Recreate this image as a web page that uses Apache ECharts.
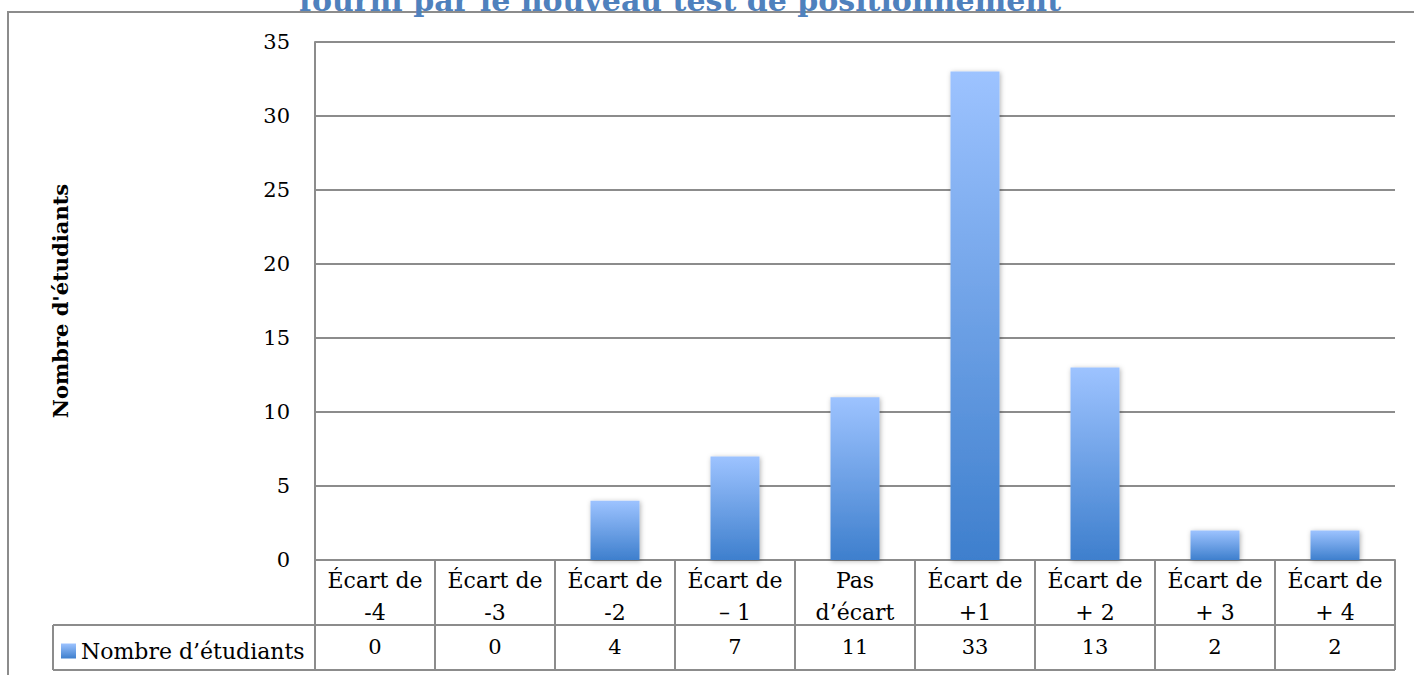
<!DOCTYPE html>
<html>
<head>
<meta charset="utf-8">
<script src="https://cdn.jsdelivr.net/npm/echarts@6/dist/echarts.min.js"></script>
<style>
html,body{margin:0;padding:0;background:#fff;}
#chart{width:1414px;height:675px;}
</style>
</head>
<body>
<div id="chart"></div>
<script>
const titleText = "fourni par le nouveau test de positionnement";
const yAxisTitle = "Nombre d'étudiants";
const seriesName = "Nombre d’étudiants";
const categories = ["Écart de\n-4", "Écart de\n-3", "Écart de\n-2", "Écart de\n– 1", "Pas\nd’écart", "Écart de\n+1", "Écart de\n+ 2", "Écart de\n+ 3", "Écart de\n+ 4"];
const values = [0, 0, 4, 7, 11, 33, 13, 2, 2];
const yMin = 0, yMax = 35, yStep = 5;

const FONT = "DejaVu Serif";
const GRID = "#8c8c8c";
const barGrad = new echarts.graphic.LinearGradient(0, 0, 0, 1, [
  {offset: 0, color: "#9dc3ff"},
  {offset: 1, color: "#3e7fcd"}
]);

const chart = echarts.init(document.getElementById("chart"), null, {renderer: "svg"});
chart.setOption({
  animation: false,
  backgroundColor: "#ffffff",
  grid: {left: 315, right: 19, top: 42, bottom: 115, containLabel: false},
  legend: {
    left: 56, top: 635,
    itemWidth: 15, itemHeight: 15, itemGap: 10,
    icon: "rect",
    textStyle: {fontFamily: FONT, fontSize: 22, color: "#000", padding: [0, 0, 0, 0]},
    data: [seriesName]
  },
  xAxis: [
    {
      type: "category",
      data: categories,
      position: "bottom",
      axisLine: {show: true, lineStyle: {color: GRID, width: 2}},
      axisTick: {show: true, length: 110, alignWithLabel: false, lineStyle: {color: GRID, width: 2}},
      axisLabel: {fontFamily: FONT, fontSize: 22, color: "#000", lineHeight: 32, margin: 4, interval: 0}
    },
    {
      type: "category",
      data: values.map(v => String(v)),
      position: "bottom",
      offset: 65,
      axisLine: {show: false},
      axisTick: {show: false},
      axisLabel: {fontFamily: FONT, fontSize: 21, color: "#000", margin: 11, interval: 0}
    }
  ],
  yAxis: {
    type: "value",
    min: yMin, max: yMax, interval: yStep,
    name: yAxisTitle,
    nameLocation: "middle",
    nameRotate: 90,
    nameGap: 244,
    nameTextStyle: {fontFamily: FONT, fontSize: 21, fontWeight: "bold", color: "#000"},
    axisLine: {show: true, lineStyle: {color: GRID, width: 2}},
    axisTick: {show: false},
    axisLabel: {fontFamily: FONT, fontSize: 21, color: "#000", margin: 25},
    splitLine: {show: true, lineStyle: {color: GRID, width: 2}}
  },
  series: [{
    name: seriesName,
    type: "bar",
    xAxisIndex: 0,
    data: values,
    barWidth: 49,
    itemStyle: {
      color: barGrad,
      shadowBlur: 5,
      shadowColor: "rgba(0,0,0,0.3)",
      shadowOffsetX: 1,
      shadowOffsetY: 1
    }
  }],
  graphic: [
    {type: "rect", z: -1, shape: {x: 8, y: 12, width: 1430, height: 700}, style: {fill: "none", stroke: GRID, lineWidth: 2}},
    {type: "line", shape: {x1: 53, y1: 625, x2: 1395, y2: 625}, style: {stroke: GRID, lineWidth: 2}},
    {type: "line", shape: {x1: 53, y1: 670, x2: 1395, y2: 670}, style: {stroke: GRID, lineWidth: 2}},
    {type: "line", shape: {x1: 53, y1: 625, x2: 53, y2: 670}, style: {stroke: GRID, lineWidth: 2}},
    {type: "text", x: 680, y: 15, style: {text: titleText, font: "bold 30px 'DejaVu Serif'", fill: "#4f81bd", align: "center", verticalAlign: "bottom"}}
  ]
});
</script>
</body>
</html>
